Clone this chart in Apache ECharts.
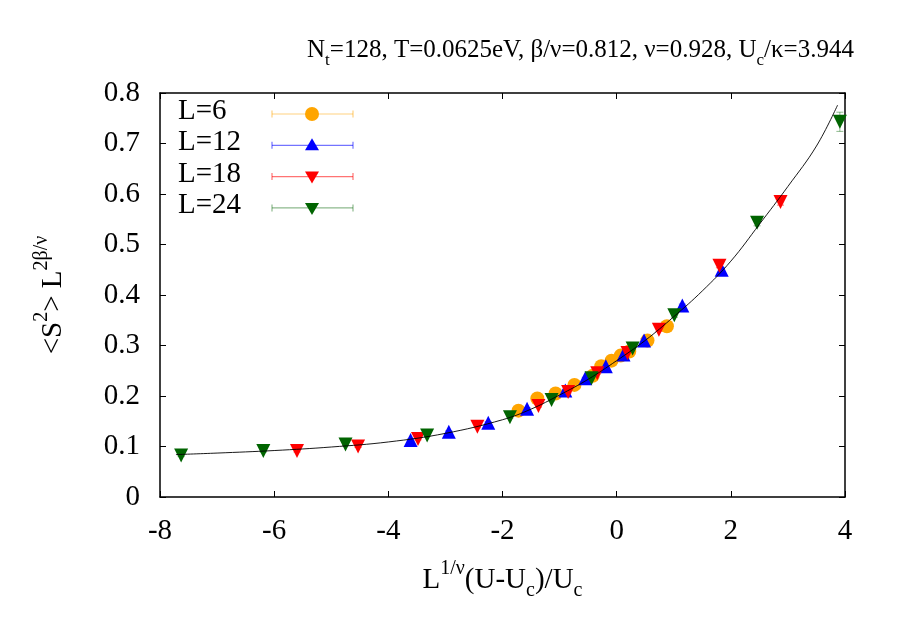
<!DOCTYPE html>
<html>
<head>
<meta charset="utf-8">
<script src="https://cdn.jsdelivr.net/npm/echarts@6/dist/echarts.min.js"></script>
<style>
html, body { margin: 0; padding: 0; background: #fff; }
#chart { width: 900px; height: 630px; }
</style>
</head>
<body>
<div id="chart"></div>
<script>
// data
var l6X = [-1.72, -1.39, -1.07, -0.74, -0.42, -0.27, -0.09, 0.07, 0.22, 0.54, 0.88];
var l6Y = [0.171, 0.195, 0.205, 0.222, 0.240, 0.259, 0.270, 0.280, 0.288, 0.310, 0.338];
var l6Err = [0.002, 0.002, 0.002, 0.002, 0.002, 0.002, 0.002, 0.002, 0.002, 0.003, 0.003];

var l12X = [-3.61, -2.94, -2.25, -1.57, -0.90, -0.55, -0.19, 0.12, 0.48, 1.15, 1.84];
var l12Y = [0.113, 0.129, 0.147, 0.175, 0.211, 0.235, 0.259, 0.282, 0.310, 0.379, 0.450];
var l12Err = [0.002, 0.002, 0.002, 0.002, 0.002, 0.002, 0.002, 0.002, 0.003, 0.003, 0.004];

var l18X = [-5.60, -4.53, -3.48, -2.44, -1.37, -0.85, -0.34, 0.19, 0.74, 1.80, 2.87];
var l18Y = [0.091, 0.100, 0.115, 0.139, 0.180, 0.208, 0.245, 0.285, 0.331, 0.458, 0.584];
var l18Err = [0.002, 0.002, 0.002, 0.002, 0.002, 0.002, 0.002, 0.003, 0.003, 0.004, 0.006];

var l24X = [-7.63, -6.19, -4.75, -3.32, -1.87, -1.14, -0.44, 0.28, 1.01, 2.46, 3.91];
var l24Y = [0.082, 0.091, 0.104, 0.122, 0.158, 0.192, 0.235, 0.294, 0.360, 0.543, 0.743];
var l24Err = [0.002, 0.002, 0.002, 0.002, 0.002, 0.002, 0.003, 0.003, 0.004, 0.006, 0.019];

// fitted curve
var fitX = [-7.72, -7, -6, -5, -4, -3, -2, -1.5, -1, -0.5, 0, 0.5, 1, 1.5, 2, 2.5, 3, 3.5, 3.87];
var fitY = [0.084, 0.087, 0.092, 0.099, 0.109, 0.126, 0.153, 0.174, 0.202, 0.233, 0.270, 0.310, 0.357, 0.408, 0.467, 0.540, 0.615, 0.695, 0.776];

var names = ['L=6', 'L=12', 'L=18', 'L=24'];
var colors = ['#ffa500', '#0000ff', '#ff0000', '#006400'];
var paleColors = ['rgba(255,165,0,0.5)', 'rgba(0,0,255,0.55)', 'rgba(255,0,0,0.55)', 'rgba(0,100,0,0.45)'];
var symbols = ['circle', 'triangle', 'triangle', 'triangle'];
var rotates = [0, 0, 180, 180];
var sizes = [14, 14, 14, 14];

var xTicks = [-8, 4, 2];     // min, max, step
var yTicks = [0, 0.8, 0.1];

var FONT = 'Liberation Serif';
var FS = 29;

var allX = [l6X, l12X, l18X, l24X];
var allY = [l6Y, l12Y, l18Y, l24Y];
var allErr = [l6Err, l12Err, l18Err, l24Err];

function pts(xs, ys) {
    return xs.map(function (x, i) { return [x, ys[i]]; });
}
function errRows(xs, ys, es) {
    return xs.map(function (x, i) { return [x, ys[i] - es[i], ys[i] + es[i]]; });
}

function renderErr(params, api) {
    var x = api.value(0);
    var lo = api.coord([x, api.value(1)]);
    var hi = api.coord([x, api.value(2)]);
    var w = 3.5;
    var st = { stroke: api.visual('color'), lineWidth: 1 };
    return {
        type: 'group',
        children: [
            { type: 'line', shape: { x1: lo[0], y1: lo[1], x2: hi[0], y2: hi[1] }, style: st },
            { type: 'line', shape: { x1: lo[0] - w, y1: lo[1], x2: lo[0] + w, y2: lo[1] }, style: st },
            { type: 'line', shape: { x1: hi[0] - w, y1: hi[1], x2: hi[0] + w, y2: hi[1] }, style: st }
        ]
    };
}

var series = [];
for (var i = 0; i < names.length; i++) {
    series.push({
        type: 'custom',
        name: names[i] + ' err',
        renderItem: renderErr,
        itemStyle: { color: paleColors[i] },
        encode: { x: 0, y: [1, 2] },
        data: errRows(allX[i], allY[i], allErr[i]),
        silent: true
    });
    series.push({
        type: 'scatter',
        name: names[i],
        symbol: symbols[i],
        symbolRotate: rotates[i],
        symbolSize: sizes[i],
        itemStyle: { color: colors[i], opacity: 1 },
        data: pts(allX[i], allY[i])
    });
}
series.push({
    type: 'line',
    name: 'fit',
    data: pts(fitX, fitY),
    smooth: 0.4,
    showSymbol: false,
    lineStyle: { color: '#000', width: 0.9 },
    z: 5
});

// legend drawn by hand: label, error-bar sample, marker
var legendGraphics = [];
for (var j = 0; j < names.length; j++) {
    var cy = 114 + j * 31.3;
    legendGraphics.push({
        type: 'text', left: 178, top: cy - 17,
        style: { text: names[j], font: FS + 'px "' + FONT + '"', fill: '#000' }
    });
    legendGraphics.push({
        type: 'group',
        children: [
            { type: 'line', shape: { x1: 272, y1: cy, x2: 353, y2: cy }, style: { stroke: paleColors[j], lineWidth: 1.2 } },
            { type: 'line', shape: { x1: 272, y1: cy - 3.5, x2: 272, y2: cy + 3.5 }, style: { stroke: paleColors[j], lineWidth: 1.2 } },
            { type: 'line', shape: { x1: 353, y1: cy - 3.5, x2: 353, y2: cy + 3.5 }, style: { stroke: paleColors[j], lineWidth: 1.2 } }
        ]
    });
    var mk = j === 0
        ? { type: 'circle', shape: { cx: 312, cy: cy, r: 7 }, style: { fill: colors[j] } }
        : { type: 'polygon', shape: { points: j === 1
            ? [[312, cy - 7], [319, cy + 5], [305, cy + 5]]
            : [[312, cy + 7], [319, cy - 5], [305, cy - 5]] }, style: { fill: colors[j] } };
    legendGraphics.push(mk);
}

function makeRich(size, small) {
    return {
        n: { fontFamily: FONT, fontSize: size, fontWeight: 'normal', lineHeight: 36, verticalAlign: 'bottom', color: '#000' },
        sup: { fontFamily: FONT, fontSize: small, fontWeight: 'normal', lineHeight: 36, verticalAlign: 'top', color: '#000' },
        sub: { fontFamily: FONT, fontSize: small, fontWeight: 'normal', lineHeight: 20, verticalAlign: 'bottom', padding: [0, 0, -6, 0], color: '#000' }
    };
}
var rich = makeRich(FS, 20);
var titleRich = makeRich(25, 17);

var axisCommon = {
    type: 'value',
    axisLine: { show: true, onZero: false, lineStyle: { color: '#000', width: 1.5 } },
    axisTick: { show: true, inside: true, length: 6, lineStyle: { color: '#000', width: 1 } },
    splitLine: { show: false }
};

var chart = echarts.init(document.getElementById('chart'), null, { renderer: 'canvas' });
chart.setOption({
    animation: false,
    backgroundColor: '#fff',
    title: {
        text: '{n|N}{sub|t}{n|=128, T=0.0625eV, β/ν=0.812, ν=0.928, U}{sub|c}{n|/κ=3.944}',
        left: 302,
        top: 22,
        textStyle: { fontWeight: 'normal', fontFamily: FONT, rich: titleRich }
    },
    grid: { left: 160, right: 55, top: 93, bottom: 133, containLabel: false, outerBoundsMode: 'none' },
    xAxis: [
        Object.assign({}, axisCommon, {
            position: 'bottom',
            min: xTicks[0], max: xTicks[1], interval: xTicks[2],
            axisLabel: { fontFamily: FONT, fontSize: FS, color: '#000', margin: 20 },
            name: '{n|L}{sup|1/ν}{n|(U-U}{sub|c}{n|)/U}{sub|c}',
            nameLocation: 'middle',
            nameGap: 62,
            nameTextStyle: { rich: rich }
        }),
        Object.assign({}, axisCommon, {
            position: 'top',
            min: xTicks[0], max: xTicks[1], interval: xTicks[2],
            axisLabel: { show: false }
        })
    ],
    yAxis: [
        Object.assign({}, axisCommon, {
            position: 'left',
            min: yTicks[0], max: yTicks[1], interval: yTicks[2],
            axisLabel: { fontFamily: FONT, fontSize: FS, color: '#000', margin: 20 },
            name: '{n|<S}{sup|2}{n|> L}{sup|2β/ν}',
            nameLocation: 'middle',
            nameRotate: 90,
            nameGap: 92,
            nameTextStyle: { rich: rich }
        }),
        Object.assign({}, axisCommon, {
            position: 'right',
            min: yTicks[0], max: yTicks[1], interval: yTicks[2],
            axisLabel: { show: false }
        })
    ],
    graphic: legendGraphics,
    series: series
});
</script>
</body>
</html>
